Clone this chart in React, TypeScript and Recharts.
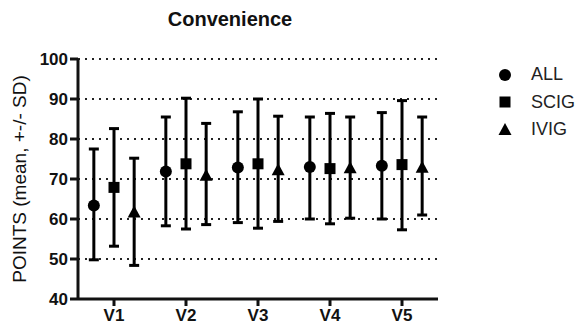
import {
  ScatterChart, Scatter, XAxis, YAxis, CartesianGrid, ErrorBar,
} from "recharts"

const categories = ["V1", "V2", "V3", "V4", "V5"]
const yTicks = [40, 50, 60, 70, 80, 90, 100]

const allMean = [63.4, 71.9, 72.9, 73, 73.3]
const allUpper = [77.5, 85.5, 86.8, 85.5, 86.6]
const allLower = [49.8, 58.3, 59.1, 60, 60]

const scigMean = [67.9, 73.8, 73.8, 72.6, 73.6]
const scigUpper = [82.6, 90.2, 90, 86.4, 89.6]
const scigLower = [53.2, 57.5, 57.7, 58.8, 57.3]

const ivigMean = [61.6, 70.8, 72.2, 72.7, 72.8]
const ivigUpper = [75.2, 83.9, 85.7, 85.5, 85.5]
const ivigLower = [48.4, 58.6, 59.4, 60.2, 61]

const FONT = "'Liberation Sans', Arial, sans-serif"
const DODGE = 0.28

type Row = { x: number; y: number; err: [number, number] }

const build = (mean: number[], upper: number[], lower: number[], slot: number): Row[] =>
  categories.map((_, i) => ({
    x: i + 1 + slot * DODGE,
    y: mean[i],
    err: [mean[i] - lower[i], upper[i] - mean[i]],
  }))

const allData = build(allMean, allUpper, allLower, -1)
const scigData = build(scigMean, scigUpper, scigLower, 0)
const ivigData = build(ivigMean, ivigUpper, ivigLower, 1)

const Dot = ({ cx, cy }: any) => <circle cx={cx} cy={cy} r={6} fill="#000" />
const Square = ({ cx, cy }: any) => <rect x={cx - 5.5} y={cy - 5.5} width={11} height={11} fill="#000" />
const Tri = ({ cx, cy }: any) => (
  <polygon points={`${cx},${cy - 7} ${cx - 6.5},${cy + 5} ${cx + 6.5},${cy + 5}`} fill="#000" />
)

const legendItems = [
  { name: "ALL", Icon: Dot },
  { name: "SCIG", Icon: Square },
  { name: "IVIG", Icon: Tri },
]

const YLabel = ({ viewBox }: any) => {
  const x = viewBox.x + 19
  const y = viewBox.y + viewBox.height / 2
  return (
    <text x={x} y={y} transform={`rotate(-90, ${x}, ${y})`} textAnchor="middle"
      dominantBaseline="central" fontFamily={FONT} fontSize={19} fill="#111">
      POINTS (mean, +-/- SD)
    </text>
  )
}

const yTickStyle = { fill: "#111", fontSize: 17, fontWeight: 700, fontFamily: FONT }
const xTickStyle = { fill: "#111", fontSize: 17, fontWeight: 700, fontFamily: FONT }
const axisStroke = { stroke: "#111", strokeWidth: 3 }

export default function App() {
  return (
    <div style={{ position: "absolute", left: 0, top: 0, width: 583, height: 326, background: "#fff" }}>
      <div style={{
        position: "absolute", left: 0, width: 460, top: 8, textAlign: "center",
        fontFamily: FONT, fontWeight: 700, fontSize: 20, color: "#111",
      }}>
        Convenience
      </div>
      <div style={{ position: "absolute", left: 495, top: 61, fontFamily: FONT, fontSize: 18, color: "#222" }}>
        {legendItems.map(({ name, Icon }) => (
          <div key={name} style={{ display: "flex", alignItems: "center", height: 27.5 }}>
            <svg width={20} height={20}>
              <Icon cx={10} cy={10} />
            </svg>
            <span style={{ marginLeft: 16 }}>{name}</span>
          </div>
        ))}
      </div>
      <ScatterChart width={583} height={326} margin={{ top: 59, right: 145, bottom: 0, left: 0 }}>
        <CartesianGrid vertical={false} stroke="#222" strokeWidth={2} strokeDasharray="2 5" />
        <XAxis type="number" dataKey="x" domain={[0.5, 5.5]} ticks={[1, 2, 3, 4, 5]}
          tickFormatter={(v: number) => categories[v - 1]} height={27}
          axisLine={axisStroke} tickLine={axisStroke} tickSize={7} tickMargin={3} tick={xTickStyle} />
        <YAxis type="number" dataKey="y" domain={[40, 100]} ticks={yTicks} width={78}
          axisLine={axisStroke} tickLine={axisStroke} tickSize={8} tickMargin={2} tick={yTickStyle}
          label={<YLabel />} />
        <Scatter name="ALL" data={allData} shape={<Dot />} isAnimationActive={false}>
          <ErrorBar dataKey="err" direction="y" width={5} stroke="#000" strokeWidth={3} isAnimationActive={false} />
        </Scatter>
        <Scatter name="SCIG" data={scigData} shape={<Square />} isAnimationActive={false}>
          <ErrorBar dataKey="err" direction="y" width={5} stroke="#000" strokeWidth={3} isAnimationActive={false} />
        </Scatter>
        <Scatter name="IVIG" data={ivigData} shape={<Tri />} isAnimationActive={false}>
          <ErrorBar dataKey="err" direction="y" width={5} stroke="#000" strokeWidth={3} isAnimationActive={false} />
        </Scatter>
      </ScatterChart>
    </div>
  )
}
